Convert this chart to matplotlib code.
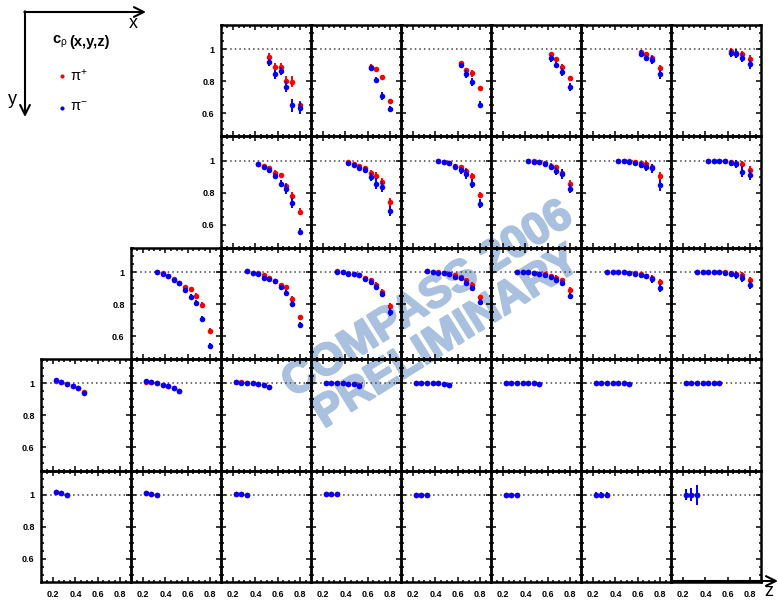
import matplotlib
matplotlib.use('Agg')
import matplotlib.pyplot as plt
import matplotlib.patheffects as pe
from matplotlib.ticker import FixedLocator, MultipleLocator, NullFormatter

plt.rcParams['font.family'] = ['Liberation Sans', 'DejaVu Sans']
plt.rcParams['mathtext.fontset'] = 'custom'
plt.rcParams['mathtext.rm'] = 'Liberation Sans'
plt.rcParams['mathtext.it'] = 'Liberation Sans'
plt.rcParams['mathtext.bf'] = 'Liberation Sans:bold'

# ---------------- data ----------------
# z bin centres per row (row = y bin, column = x bin)
Z_ROW0_FIRST = [0.525, 0.575, 0.625, 0.675, 0.725, 0.8]
Z_ROW0 = [0.625, 0.675, 0.725, 0.8]
Z_ROW1 = [0.425, 0.475, 0.525, 0.575, 0.625, 0.675, 0.725, 0.8]
Z_ROW2 = [0.325, 0.375, 0.425, 0.475, 0.525, 0.575, 0.625, 0.675, 0.725, 0.8]
Z_ROW3_FIRST = [0.225, 0.275, 0.325, 0.375, 0.425, 0.475]
Z_ROW3 = [0.225, 0.275, 0.325, 0.375, 0.425, 0.475, 0.525]
Z_ROW4 = [0.225, 0.275, 0.325]

FIRST_COL = [2, 2, 1, 0, 0]

PIP_ROW0 = [
    [0.954, 0.887, 0.887, 0.800, 0.797, 0.654],
    [0.891, 0.874, 0.824, 0.677],
    [0.912, 0.870, 0.849, 0.755],
    [0.969, 0.939, 0.891, 0.818],
    [0.981, 0.971, 0.948, 0.881],
    [0.990, 0.979, 0.969, 0.937],
]
PIM_ROW0 = [
    [0.918, 0.843, 0.866, 0.765, 0.650, 0.633],
    [0.885, 0.807, 0.706, 0.625],
    [0.901, 0.843, 0.797, 0.654],
    [0.943, 0.901, 0.860, 0.761],
    [0.973, 0.945, 0.933, 0.843],
    [0.977, 0.973, 0.948, 0.906],
]
EP_ROW0 = [
    [0.020, 0.025, 0.025, 0.030, 0.035, 0.025],
    [0.015, 0.015, 0.015, 0.015],
    [0.015, 0.015, 0.020, 0.015],
    [0.015, 0.015, 0.015, 0.015],
    [0.015, 0.015, 0.015, 0.020],
    [0.015, 0.020, 0.020, 0.025],
]
EM_ROW0 = [
    [0.020, 0.030, 0.025, 0.035, 0.040, 0.035],
    [0.015, 0.020, 0.025, 0.020],
    [0.015, 0.025, 0.025, 0.020],
    [0.020, 0.020, 0.025, 0.025],
    [0.020, 0.020, 0.025, 0.030],
    [0.025, 0.030, 0.030, 0.030],
]

PIP_ROW1 = [
    [0.977, 0.969, 0.954, 0.925, 0.910, 0.841, 0.782, 0.681],
    [0.990, 0.979, 0.969, 0.952, 0.922, 0.906, 0.864, 0.742],
    [0.998, 0.994, 0.987, 0.969, 0.960, 0.933, 0.906, 0.784],
    [1.000, 1.000, 0.994, 0.985, 0.969, 0.958, 0.925, 0.857],
    [1.000, 1.000, 0.998, 0.994, 0.983, 0.977, 0.958, 0.904],
    [1.000, 1.000, 1.000, 0.996, 0.992, 0.985, 0.977, 0.940],
]
PIM_ROW1 = [
    [0.977, 0.958, 0.939, 0.904, 0.857, 0.822, 0.736, 0.556],
    [0.987, 0.971, 0.956, 0.943, 0.895, 0.855, 0.836, 0.686],
    [0.998, 0.992, 0.985, 0.962, 0.939, 0.916, 0.857, 0.732],
    [0.998, 0.994, 0.992, 0.977, 0.960, 0.937, 0.916, 0.826],
    [1.000, 0.998, 0.994, 0.985, 0.973, 0.960, 0.952, 0.847],
    [1.000, 1.000, 1.000, 0.996, 0.987, 0.977, 0.931, 0.910],
]
EP_ROW1 = [
    [0.010, 0.010, 0.010, 0.015, 0.015, 0.020, 0.020, 0.020],
    [0.010, 0.010, 0.012, 0.015, 0.020, 0.025, 0.025, 0.025],
    [0.008, 0.008, 0.010, 0.012, 0.015, 0.020, 0.020, 0.020],
    [0.008, 0.008, 0.010, 0.012, 0.015, 0.018, 0.020, 0.020],
    [0.008, 0.008, 0.010, 0.012, 0.015, 0.018, 0.020, 0.025],
    [0.008, 0.008, 0.010, 0.012, 0.015, 0.018, 0.020, 0.025],
]
EM_ROW1 = [
    [0.010, 0.012, 0.015, 0.020, 0.020, 0.030, 0.030, 0.020],
    [0.010, 0.012, 0.015, 0.020, 0.025, 0.035, 0.035, 0.030],
    [0.008, 0.010, 0.012, 0.015, 0.020, 0.030, 0.030, 0.030],
    [0.008, 0.010, 0.012, 0.015, 0.020, 0.025, 0.030, 0.030],
    [0.008, 0.010, 0.012, 0.015, 0.020, 0.025, 0.030, 0.035],
    [0.008, 0.010, 0.012, 0.015, 0.020, 0.025, 0.035, 0.030],
]

PIP_ROW2 = [
    [1.002, 0.994, 0.975, 0.958, 0.933, 0.906, 0.895, 0.853, 0.797, 0.633],
    [1.004, 0.996, 0.992, 0.979, 0.964, 0.945, 0.920, 0.906, 0.832, 0.717],
    [1.004, 1.000, 0.996, 0.990, 0.983, 0.964, 0.948, 0.922, 0.874, 0.790],
    [1.006, 1.000, 0.998, 0.994, 0.987, 0.979, 0.969, 0.948, 0.920, 0.843],
    [1.002, 1.000, 0.998, 0.996, 0.990, 0.985, 0.973, 0.964, 0.948, 0.891],
    [1.000, 1.000, 1.000, 0.998, 0.996, 0.994, 0.987, 0.975, 0.964, 0.937],
    [1.000, 1.000, 1.000, 1.000, 1.000, 0.998, 0.996, 0.990, 0.983, 0.948],
]
PIM_ROW2 = [
    [1.002, 0.990, 0.975, 0.952, 0.931, 0.889, 0.847, 0.805, 0.706, 0.539],
    [1.004, 0.994, 0.985, 0.964, 0.958, 0.943, 0.906, 0.870, 0.801, 0.669],
    [1.002, 0.998, 0.990, 0.987, 0.979, 0.958, 0.941, 0.906, 0.864, 0.748],
    [1.004, 1.000, 0.996, 0.992, 0.985, 0.969, 0.962, 0.933, 0.901, 0.811],
    [1.002, 1.000, 0.998, 0.996, 0.990, 0.983, 0.969, 0.952, 0.931, 0.849],
    [1.000, 1.000, 1.000, 0.998, 0.994, 0.990, 0.979, 0.973, 0.954, 0.901],
    [1.000, 1.000, 1.000, 1.000, 1.000, 0.994, 0.990, 0.979, 0.964, 0.922],
]
EP_ROW2 = [
    [0.006, 0.006, 0.008, 0.008, 0.010, 0.012, 0.012, 0.015, 0.018, 0.015],
    [0.006, 0.006, 0.008, 0.008, 0.010, 0.012, 0.012, 0.015, 0.018, 0.015],
    [0.006, 0.006, 0.008, 0.008, 0.010, 0.012, 0.012, 0.015, 0.018, 0.015],
    [0.006, 0.006, 0.006, 0.008, 0.008, 0.010, 0.012, 0.015, 0.015, 0.015],
    [0.006, 0.006, 0.006, 0.008, 0.008, 0.010, 0.012, 0.015, 0.015, 0.015],
    [0.006, 0.006, 0.006, 0.008, 0.008, 0.010, 0.012, 0.015, 0.015, 0.018],
    [0.006, 0.006, 0.006, 0.008, 0.008, 0.010, 0.012, 0.015, 0.015, 0.020],
]
EM_ROW2 = [
    [0.006, 0.008, 0.008, 0.010, 0.010, 0.012, 0.015, 0.018, 0.020, 0.015],
    [0.006, 0.008, 0.008, 0.010, 0.010, 0.012, 0.015, 0.020, 0.020, 0.020],
    [0.006, 0.008, 0.008, 0.010, 0.010, 0.012, 0.015, 0.020, 0.020, 0.025],
    [0.006, 0.006, 0.008, 0.008, 0.010, 0.012, 0.015, 0.018, 0.020, 0.020],
    [0.006, 0.006, 0.008, 0.008, 0.010, 0.012, 0.015, 0.018, 0.020, 0.020],
    [0.006, 0.006, 0.008, 0.008, 0.010, 0.012, 0.015, 0.018, 0.020, 0.025],
    [0.006, 0.006, 0.008, 0.008, 0.010, 0.012, 0.015, 0.020, 0.025, 0.025],
]

PIP_ROW3 = [
    [1.018, 1.008, 0.996, 0.983, 0.973, 0.945],
    [1.012, 1.008, 1.002, 0.992, 0.983, 0.973, 0.956],
    [1.010, 1.008, 1.005, 1.003, 0.998, 0.992, 0.981],
    [1.005, 1.004, 1.003, 1.001, 0.999, 0.997, 0.989],
    [1.004, 1.004, 1.002, 1.002, 1.000, 0.997, 0.993],
    [1.004, 1.004, 1.002, 1.002, 1.002, 1.000, 0.997],
    [1.002, 1.002, 1.002, 1.002, 1.002, 1.000, 0.999],
    [1.002, 1.002, 1.002, 1.002, 1.000, 1.000, 1.000],
]
PIM_ROW3 = [
    [1.019, 1.008, 0.998, 0.983, 0.973, 0.941],
    [1.013, 1.008, 1.002, 0.992, 0.983, 0.973, 0.950],
    [1.008, 1.006, 1.004, 1.002, 0.996, 0.990, 0.979],
    [1.004, 1.004, 1.002, 1.000, 0.998, 0.996, 0.987],
    [1.004, 1.004, 1.002, 1.002, 1.000, 0.996, 0.992],
    [1.004, 1.004, 1.002, 1.002, 1.002, 1.000, 0.996],
    [1.002, 1.002, 1.002, 1.002, 1.002, 1.000, 0.998],
    [1.002, 1.002, 1.002, 1.002, 1.000, 1.000, 1.000],
]
E_ROW3 = [
    [0.004, 0.004, 0.005, 0.006, 0.008, 0.012],
    [0.004, 0.004, 0.005, 0.005, 0.006, 0.008, 0.010],
    [0.003, 0.003, 0.004, 0.004, 0.005, 0.006, 0.008],
    [0.003, 0.003, 0.004, 0.004, 0.005, 0.006, 0.008],
    [0.003, 0.003, 0.004, 0.004, 0.005, 0.006, 0.008],
    [0.003, 0.003, 0.004, 0.004, 0.005, 0.006, 0.008],
    [0.003, 0.003, 0.004, 0.004, 0.005, 0.008, 0.012],
    [0.003, 0.003, 0.004, 0.004, 0.005, 0.006, 0.008],
]

PIP_ROW4 = [
    [1.018, 1.010, 1.001],
    [1.010, 1.006, 1.002],
    [1.005, 1.004, 1.002],
    [1.004, 1.004, 1.004],
    [1.002, 1.002, 1.002],
    [1.002, 1.002, 1.002],
    [1.000, 1.000, 1.000],
    [1.002, 1.002, 1.002],
]
PIM_ROW4 = [
    [1.019, 1.010, 1.000],
    [1.010, 1.006, 1.002],
    [1.004, 1.004, 1.002],
    [1.004, 1.004, 1.004],
    [1.002, 1.002, 1.002],
    [1.002, 1.002, 1.002],
    [1.000, 1.000, 1.000],
    [1.002, 1.002, 1.002],
]
E_ROW4 = [
    [0.004, 0.004, 0.005],
    [0.004, 0.004, 0.005],
    [0.004, 0.004, 0.005],
    [0.004, 0.004, 0.005],
    [0.004, 0.004, 0.005],
    [0.004, 0.004, 0.005],
    [0.020, 0.018, 0.020],
    [0.034, 0.040, 0.063],
]

X_TICKS = [0.2, 0.4, 0.6, 0.8]
X_TICK_LABELS = ['0.2', '0.4', '0.6', '0.8']
Y_TICKS = [0.6, 0.8, 1.0]
Y_TICK_LABELS = ['0.6', '0.8', '1']

# ---------------- layout ----------------
W, H = 778, 600
fig = plt.figure(figsize=(W / 100, H / 100), dpi=100)

COL_LEFT = [41, 131, 221, 311, 401, 491, 581, 671]
COL_W = 90
ROW_TOP = [25, 136.4, 247.8, 359.2, 470.6]
ROW_H = 111.4

# background axes for the watermark
bg = fig.add_axes([0, 0, 1, 1], zorder=-5)
bg.set_xlim(0, W)
bg.set_ylim(H, 0)
bg.axis('off')
wm_color = '#a9c1de'
wm_fx = [pe.withStroke(linewidth=1.6, foreground=wm_color)]
bg.text(428, 300, 'COMPASS 2006', rotation=32, rotation_mode='anchor',
        ha='center', va='center', fontsize=32, fontweight='bold', color=wm_color,
        path_effects=wm_fx)
bg.text(447, 338, 'PRELIMINARY', rotation=32, rotation_mode='anchor',
        ha='center', va='center', fontsize=32, fontweight='bold', color=wm_color,
        path_effects=wm_fx)


def panel_data(r, k):
    c = FIRST_COL[r] + k
    if r == 0:
        z = Z_ROW0_FIRST if k == 0 else Z_ROW0
        return z, PIP_ROW0[k], EP_ROW0[k], PIM_ROW0[k], EM_ROW0[k]
    if r == 1:
        return Z_ROW1, PIP_ROW1[k], EP_ROW1[k], PIM_ROW1[k], EM_ROW1[k]
    if r == 2:
        return Z_ROW2, PIP_ROW2[k], EP_ROW2[k], PIM_ROW2[k], EM_ROW2[k]
    if r == 3:
        z = Z_ROW3_FIRST if c == 0 else Z_ROW3
        return z, PIP_ROW3[k], E_ROW3[k], PIM_ROW3[k], E_ROW3[k]
    return Z_ROW4, PIP_ROW4[k], E_ROW4[k], PIM_ROW4[k], E_ROW4[k]


for r in range(5):
    for c in range(FIRST_COL[r], 8):
        k = c - FIRST_COL[r]
        ax = fig.add_axes([COL_LEFT[c] / W, 1 - (ROW_TOP[r] + ROW_H) / H,
                           COL_W / W, ROW_H / H])
        ax.set_facecolor('none')
        ax.set_xlim(0.093, 0.896)
        ax.set_ylim(0.455, 1.152)
        ax.axhline(1.0, color='#444444', lw=1.1, ls=(0, (1, 2)), zorder=1)
        z, vp, ep, vm, em = panel_data(r, k)
        ax.errorbar(z, vp, yerr=ep, fmt='o', color='#ff0000', ms=4.0, mew=0,
                    elinewidth=1.4, capsize=0, zorder=3)
        ax.errorbar(z, vm, yerr=em, fmt='o', color='#0000ff', ms=4.0, mew=0,
                    elinewidth=1.4, capsize=0, zorder=4)
        for sp in ax.spines.values():
            sp.set_linewidth(1.8)
            sp.set_color('black')
        ax.xaxis.set_major_locator(FixedLocator(X_TICKS))
        ax.xaxis.set_minor_locator(MultipleLocator(0.05))
        ax.yaxis.set_major_locator(FixedLocator(Y_TICKS))
        ax.yaxis.set_minor_locator(MultipleLocator(0.05))
        ax.tick_params(which='both', direction='in', top=True, right=True,
                       width=1.1, color='black')
        ax.tick_params(which='major', length=3.6)
        ax.tick_params(which='minor', length=1.8)
        if r == 4:
            ax.set_xticklabels(X_TICK_LABELS, fontsize=6.5, fontweight='bold')
            ax.tick_params(axis='x', pad=5.5)
        else:
            ax.xaxis.set_major_formatter(NullFormatter())
        if c == FIRST_COL[r]:
            ax.set_yticklabels(Y_TICK_LABELS, fontsize=6.5, fontweight='bold')
            ax.tick_params(axis='y', pad=4.5)
        else:
            ax.yaxis.set_major_formatter(NullFormatter())

# overlay for arrows and legend
ov = fig.add_axes([0, 0, 1, 1], zorder=10)
ov.set_xlim(0, W)
ov.set_ylim(H, 0)
ov.axis('off')
arrow_kw = dict(arrowstyle='->,head_length=0.7,head_width=0.35', lw=1.5,
                color='black', shrinkA=0, shrinkB=0)
ov.annotate('', xy=(146, 12), xytext=(24.3, 12), arrowprops=arrow_kw)
ov.annotate('', xy=(25, 117), xytext=(25, 11.3), arrowprops=arrow_kw)
ov.annotate('', xy=(778, 581), xytext=(671, 581), arrowprops=arrow_kw)
ov.text(133, 24, 'x', fontsize=13, ha='center', va='center')
ov.text(12, 99, 'y', fontsize=13, ha='center', va='center')
ov.text(769, 592, 'z', fontsize=13, ha='center', va='center')
ov.text(52, 42, r'c$_{\rho}$', fontsize=10.5, fontweight='bold', ha='left', va='center')
ov.text(69, 42, '(x,y,z)', fontsize=10.5, fontweight='bold', ha='left', va='center')
ov.plot([61.7], [76], 'o', color='#ff0000', ms=3, mew=0)
ov.plot([61.7], [108], 'o', color='#0000ff', ms=3, mew=0)
ov.text(70, 76, r'$\pi^{+}$', fontsize=10.5, ha='left', va='center')
ov.text(70, 107, r'$\pi^{-}$', fontsize=10.5, ha='left', va='center')

fig.savefig('out.png', dpi=100)
